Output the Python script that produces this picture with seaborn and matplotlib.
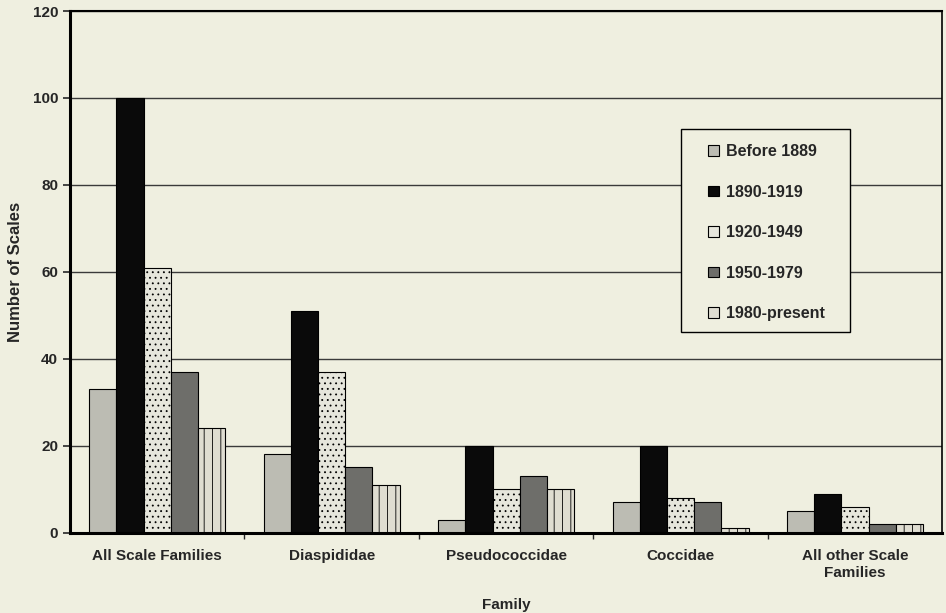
import numpy as np
import pandas as pd
import matplotlib
matplotlib.use("Agg")
import matplotlib.pyplot as plt
from matplotlib.patches import Rectangle
import seaborn as sns

# data
families = ["All Scale Families", "Diaspididae", "Pseudococcidae", "Coccidae",
            "All other Scale\nFamilies"]
periods = ["Before 1889", "1890-1919", "1920-1949", "1950-1979", "1980-present"]
before_1889 = [33, 18, 3, 7, 5]
p1890_1919 = [100, 51, 20, 20, 9]
p1920_1949 = [61, 37, 10, 8, 6]
p1950_1979 = [37, 15, 13, 7, 2]
p1980_present = [24, 11, 10, 1, 2]

colors = ["#bcbcb3", "#0a0a0a", "#e6e6dc", "#6e6e6a", "#dfddd1"]
hatches = ["", "", "...", "", "||"]
bg = "#efefe0"

rows = []
for period, vals in zip(periods, [before_1889, p1890_1919, p1920_1949,
                                  p1950_1979, p1980_present]):
    for fam, v in zip(families, vals):
        rows.append({"Family": fam, "Period": period, "Scales": v})
df = pd.DataFrame(rows)

sns.set_style("white")
plt.rcParams["font.family"] = ["Liberation Sans", "DejaVu Sans"]
plt.rcParams["font.weight"] = "bold"
plt.rcParams["hatch.color"] = "#a8a8a0"
plt.rcParams["hatch.linewidth"] = 0.6

fig, ax = plt.subplots(figsize=(9.46, 6.13), dpi=100)
fig.patch.set_facecolor(bg)
ax.set_facecolor(bg)
fig.subplots_adjust(left=0.074, right=0.996, top=0.982, bottom=0.131)

sns.barplot(data=df, x="Family", y="Scales", hue="Period", hue_order=periods,
            order=families, palette=colors, width=0.78, gap=0,
            edgecolor="black", linewidth=0.8, saturation=1, ax=ax, zorder=3)

# hatch textures per series
for container, h in zip(ax.containers, hatches):
    for bar in container:
        bar.set_hatch(h)

ax.set_ylim(0, 120)
ax.set_xlim(-0.5, 4.5)
ax.set_yticks(np.arange(0, 121, 20))
ax.yaxis.grid(True, color="#3a3a3a", linewidth=1.0, zorder=0)
ax.set_axisbelow(True)

for side in ["left", "bottom", "top", "right"]:
    ax.spines[side].set_visible(True)
    ax.spines[side].set_color("black")
    ax.spines[side].set_zorder(5)
ax.spines["left"].set_linewidth(2.2)
ax.spines["bottom"].set_linewidth(2.2)
ax.spines["top"].set_linewidth(1.5)
ax.spines["right"].set_linewidth(1.2)

ax.tick_params(axis="y", direction="out", length=5, width=1.2, labelsize=11, left=True)
ax.tick_params(axis="x", which="major", length=0, labelsize=11, pad=12)
ax.set_xticks(np.arange(0.5, 4.5, 1), minor=True)
ax.tick_params(axis="x", which="minor", direction="out", length=4, width=1, bottom=True)

ax.set_xlabel("Family", fontsize=11, fontweight="bold", labelpad=13)
ax.set_ylabel("Number of Scales", fontsize=12, fontweight="bold", labelpad=7)

# legend box drawn as its own frame, entries placed inside
box = Rectangle((0.70, 0.385), 0.194, 0.389, transform=ax.transAxes,
                facecolor=bg, edgecolor="black", linewidth=1.0, zorder=6)
ax.add_patch(box)
leg = ax.legend(loc="upper left", bbox_to_anchor=(0.732, 0.745), frameon=False,
                fontsize=11.5, handlelength=0.65, handleheight=0.65, handletextpad=0.45,
                labelspacing=1.60, borderpad=0, borderaxespad=0)
leg.set_zorder(7)
for t in leg.get_texts():
    t.set_fontweight("bold")

plt.savefig("out.png", dpi=100, facecolor=bg)
